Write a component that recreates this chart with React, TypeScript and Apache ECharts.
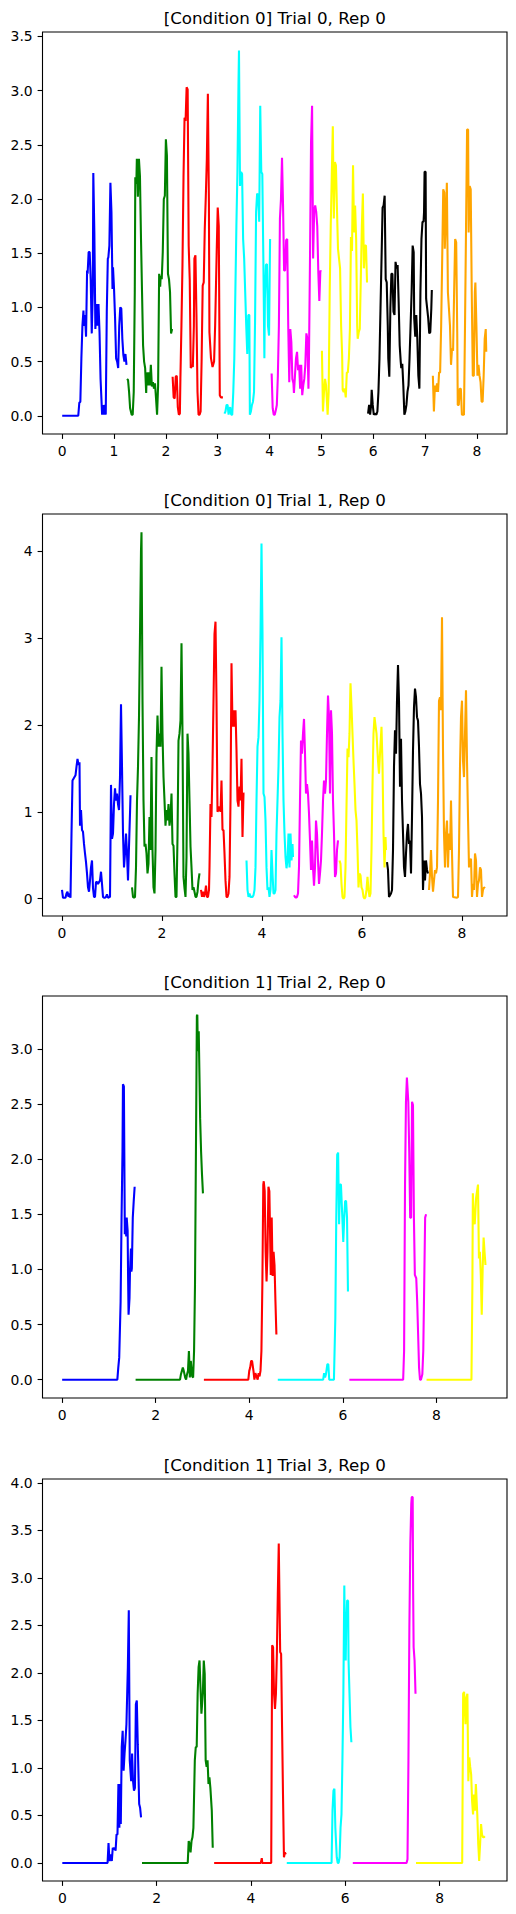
import React, { useEffect, useRef } from "react";
import * as echarts from "echarts";

// Colours used for the successive segments of a trial
const SEGMENT_COLORS: Record<string, string> = {
  blue: "#0000ff",
  green: "#008000",
  red: "#ff0000",
  cyan: "#00ffff",
  magenta: "#ff00ff",
  yellow: "#ffff00",
  black: "#000000",
  orange: "#ffa500",
};

const titles = [
  "[Condition 0] Trial 0, Rep 0",
  "[Condition 0] Trial 1, Rep 0",
  "[Condition 1] Trial 2, Rep 0",
  "[Condition 1] Trial 3, Rep 0",
];

// ---- Trial 0 ----
const t0Blue = [[0,0],[0.31,0],[0.33,0.12],[0.35,0.13],[0.37,0.53],[0.39,0.83],[0.41,0.97],[0.42,0.83],[0.44,0.93],[0.46,0.73],[0.48,1.34],[0.49,1.31],[0.51,1.51],[0.53,1.51],[0.55,1.26],[0.57,0.76],[0.59,1.14],[0.60,2.24],[0.62,1.69],[0.64,0.80],[0.66,1.03],[0.68,0.83],[0.70,1.03],[0.72,0.77],[0.74,0.34],[0.77,0.01],[0.79,0.10],[0.80,0.01],[0.82,0.10],[0.84,0.01],[0.86,0.96],[0.88,1.45],[0.89,1.46],[0.91,1.57],[0.93,2.15],[0.95,1.88],[0.97,1.17],[0.98,1.37],[1.00,1.17],[1.02,0.90],[1.04,0.53],[1.06,0.50],[1.08,0.44],[1.10,0.83],[1.12,1.00],[1.14,0.99],[1.16,0.71],[1.18,0.56],[1.20,0.50],[1.22,0.57],[1.24,0.47]];
const t0Green = [[1.25,0.34],[1.27,0.33],[1.29,0.22],[1.31,0.07],[1.34,0.01],[1.36,0.01],[1.38,0.22],[1.40,1.14],[1.41,2.20],[1.43,2.14],[1.44,2.37],[1.46,2.02],[1.48,2.37],[1.50,2.21],[1.52,1.63],[1.54,1.14],[1.56,0.65],[1.58,0.50],[1.60,0.44],[1.62,0.21],[1.63,0.40],[1.65,0.28],[1.67,0.40],[1.69,0.28],[1.71,0.47],[1.73,0.27],[1.75,0.31],[1.77,0.25],[1.79,0.30],[1.81,0.16],[1.83,0.01],[1.85,0.28],[1.87,1.31],[1.89,1.19],[1.90,1.29],[1.92,1.26],[1.94,1.51],[1.96,2.00],[1.98,2.03],[2.00,2.55],[2.02,2.40],[2.04,1.31],[2.06,1.26],[2.08,1.14],[2.10,0.76],[2.12,0.80]];
const t0Red = [[2.13,0.36],[2.15,0.17],[2.17,0.16],[2.19,0.36],[2.21,0.37],[2.23,0.08],[2.25,0.01],[2.27,0.02],[2.28,0.34],[2.30,0.83],[2.32,1.39],[2.34,2.20],[2.36,2.75],[2.38,2.72],[2.40,3.03],[2.42,3.01],[2.44,1.57],[2.46,1.26],[2.48,0.44],[2.50,0.47],[2.52,0.45],[2.54,0.83],[2.55,1.45],[2.57,1.48],[2.59,0.93],[2.61,0.22],[2.63,0.01],[2.65,0.01],[2.67,0.04],[2.69,0.53],[2.71,1.20],[2.73,1.23],[2.75,1.72],[2.77,2.02],[2.79,2.37],[2.81,2.97],[2.83,1.97],[2.84,0.77],[2.87,0.53],[2.90,0.45],[2.93,0.50],[2.95,0.83],[2.98,1.51],[3.00,1.92],[3.02,1.75],[3.04,0.19],[3.06,0.17],[3.10,0.17]];
const t0Cyan = [[3.13,0.02],[3.15,0.04],[3.17,0.10],[3.19,0.10],[3.21,0.01],[3.23,0.07],[3.24,0.08],[3.26,0.01],[3.28,0.01],[3.30,0.22],[3.32,0.53],[3.34,1.14],[3.36,1.75],[3.38,2.25],[3.40,3.04],[3.41,3.37],[3.43,2.12],[3.45,2.25],[3.47,2.23],[3.49,1.63],[3.51,1.45],[3.53,1.14],[3.55,0.83],[3.57,0.57],[3.59,0.93],[3.61,0.93],[3.62,0.01],[3.64,0.04],[3.66,0.10],[3.68,0.13],[3.70,0.22],[3.72,0.87],[3.74,1.88],[3.76,2.05],[3.78,2.03],[3.80,1.79],[3.82,2.86],[3.84,2.25],[3.86,2.23],[3.88,1.45],[3.90,0.53],[3.91,1.08],[3.93,1.39],[3.95,1.40],[3.97,0.83],[3.99,0.74],[4.01,1.63]];
const t0Magenta = [[4.04,0.39],[4.06,0.07],[4.08,0.01],[4.10,0.01],[4.12,0.05],[4.14,0.10],[4.16,0.37],[4.18,0.83],[4.20,1.82],[4.22,2.00],[4.24,2.38],[4.26,1.94],[4.28,1.34],[4.30,1.34],[4.32,1.62],[4.34,1.63],[4.36,0.83],[4.38,0.31],[4.40,0.80],[4.42,0.68],[4.44,0.34],[4.46,0.30],[4.47,0.21],[4.49,0.37],[4.51,0.53],[4.53,0.59],[4.55,0.42],[4.57,0.47],[4.59,0.25],[4.61,0.47],[4.63,0.19],[4.65,0.28],[4.67,0.34],[4.69,0.47],[4.71,0.76],[4.73,0.71],[4.75,0.25],[4.76,0.53],[4.78,1.45],[4.80,2.52],[4.82,2.86],[4.84,1.45],[4.86,1.88],[4.88,1.94],[4.90,1.88],[4.92,1.75],[4.94,1.33],[4.96,1.06],[4.98,1.34],[4.99,1.33]];
const t0Yellow = [[5.01,0.60],[5.03,0.04],[5.05,0.22],[5.07,0.34],[5.09,0.28],[5.11,0.10],[5.12,0.01],[5.14,0.22],[5.16,1.14],[5.18,1.75],[5.20,2.21],[5.22,2.67],[5.24,1.82],[5.26,2.34],[5.28,2.31],[5.30,1.91],[5.32,1.54],[5.34,1.45],[5.36,1.36],[5.38,0.83],[5.40,0.56],[5.41,0.24],[5.43,0.22],[5.45,0.25],[5.47,0.17],[5.49,0.40],[5.51,0.40],[5.53,0.53],[5.55,0.80],[5.57,1.65],[5.59,1.52],[5.61,2.31],[5.63,1.69],[5.65,1.94],[5.67,1.63],[5.69,0.83],[5.70,0.71],[5.72,0.77],[5.74,0.80],[5.76,1.26],[5.78,1.75],[5.80,2.05],[5.82,1.36],[5.84,1.57],[5.86,1.57],[5.88,1.23]];
const t0Black = [[5.90,0.02],[5.92,0.10],[5.94,0.01],[5.96,0.10],[5.97,0.24],[5.99,0.10],[6.01,0.01],[6.03,0.02],[6.06,0.01],[6.08,0.04],[6.10,0.22],[6.12,0.53],[6.14,0.99],[6.16,1.45],[6.18,1.92],[6.20,1.94],[6.22,2.03],[6.24,1.26],[6.26,1.23],[6.28,0.83],[6.29,0.53],[6.31,0.36],[6.33,0.99],[6.35,1.31],[6.37,1.31],[6.39,0.96],[6.41,0.93],[6.43,1.42],[6.45,1.36],[6.47,1.39],[6.49,1.05],[6.51,0.65],[6.53,0.50],[6.54,0.44],[6.56,0.48],[6.58,0.28],[6.60,0.01],[6.62,0.04],[6.64,0.10],[6.66,0.22],[6.68,0.28],[6.70,0.53],[6.72,0.83],[6.74,1.14],[6.76,1.57],[6.78,1.51],[6.79,0.90],[6.81,0.73],[6.83,0.93],[6.85,0.71],[6.87,0.37],[6.89,0.25],[6.91,1.14],[6.93,1.63],[6.95,1.79],[6.97,1.79],[6.98,1.88],[6.99,2.25],[7.01,2.25],[7.02,1.08],[7.04,0.99],[7.06,0.90],[7.08,0.76],[7.10,0.77],[7.12,0.99],[7.13,1.16]];
const t0Orange = [[7.15,0.37],[7.17,0.04],[7.19,0.28],[7.21,0.22],[7.23,0.30],[7.25,0.22],[7.27,0.40],[7.29,0.40],[7.31,0.83],[7.33,1.45],[7.35,2.09],[7.37,2.06],[7.38,1.54],[7.40,1.82],[7.42,2.15],[7.44,1.14],[7.46,0.99],[7.48,0.83],[7.50,0.47],[7.52,0.62],[7.54,0.60],[7.56,1.14],[7.58,1.63],[7.60,1.60],[7.62,0.77],[7.63,0.10],[7.65,0.10],[7.67,0.25],[7.69,0.25],[7.71,0.01],[7.73,0.01],[7.75,0.01],[7.77,0.83],[7.79,1.75],[7.81,2.64],[7.83,2.64],[7.84,1.69],[7.86,2.12],[7.88,2.09],[7.90,1.14],[7.92,0.37],[7.94,0.37],[7.96,1.14],[7.97,1.23],[7.99,0.83],[8.01,0.37],[8.03,0.47],[8.05,0.37],[8.07,0.31],[8.09,0.13],[8.11,0.13],[8.13,0.37],[8.15,0.71],[8.17,0.80],[8.18,0.59]];

// ---- Trial 1 ----
const t1Blue = [[0,0.10],[0.02,0.01],[0.04,0.01],[0.07,0.01],[0.09,0.06],[0.11,0.08],[0.13,0.02],[0.15,0.06],[0.17,0.01],[0.19,0.75],[0.21,1.36],[0.23,1.38],[0.25,1.40],[0.27,1.42],[0.29,1.52],[0.31,1.61],[0.33,1.54],[0.35,1.57],[0.36,0.84],[0.38,1.02],[0.40,0.79],[0.42,0.77],[0.44,0.63],[0.46,0.52],[0.48,0.42],[0.50,0.29],[0.52,0.13],[0.54,0.08],[0.56,0.21],[0.58,0.36],[0.60,0.44],[0.62,0.12],[0.64,0.02],[0.66,0.02],[0.68,0.19],[0.70,0.19],[0.72,0.17],[0.74,0.19],[0.76,0.21],[0.78,0.31],[0.80,0.17],[0.82,0.02],[0.84,0.01],[0.86,0.01],[0.88,0.02],[0.90,0.05],[0.92,0.01],[0.96,0.02],[0.98,1.31],[1.00,0.69],[1.02,0.75],[1.04,1.09],[1.06,1.27],[1.08,1.13],[1.10,1.21],[1.12,1.09],[1.14,1.02],[1.16,1.40],[1.18,2.24],[1.20,1.52],[1.22,0.75],[1.24,0.36],[1.26,0.52],[1.28,0.75],[1.30,0.52],[1.32,0.21],[1.34,0.60],[1.36,0.98],[1.37,1.19]];
const t1Green = [[1.40,0.13],[1.42,0.02],[1.44,0.01],[1.46,0.02],[1.48,0.36],[1.50,1.13],[1.52,1.52],[1.54,2.09],[1.56,3.05],[1.58,4.01],[1.59,4.22],[1.61,2.28],[1.63,1.13],[1.65,0.60],[1.67,0.63],[1.69,0.52],[1.71,0.29],[1.73,0.40],[1.75,0.94],[1.77,0.56],[1.79,1.63],[1.81,0.56],[1.83,0.13],[1.85,0.06],[1.87,0.56],[1.89,1.67],[1.91,2.11],[1.93,1.75],[1.95,1.90],[1.97,1.75],[1.99,2.67],[2.01,1.90],[2.03,1.40],[2.05,1.13],[2.07,0.84],[2.09,1.02],[2.11,0.90],[2.13,1.09],[2.15,0.84],[2.17,0.94],[2.19,1.21],[2.21,0.63],[2.23,0.61],[2.25,0.29],[2.27,0.02],[2.29,0.02],[2.31,0.71],[2.33,1.82],[2.35,1.90],[2.37,2.05],[2.39,2.94],[2.41,1.90],[2.43,0.25],[2.45,0.12],[2.47,0.02],[2.49,0.48],[2.51,1.90],[2.53,1.67],[2.55,1.13],[2.57,0.60],[2.59,0.36],[2.61,0.10],[2.63,0.13],[2.65,0.08],[2.67,0.02],[2.69,0.02],[2.71,0.08],[2.73,0.21],[2.75,0.29]];
const t1Red = [[2.78,0.10],[2.80,0.02],[2.82,0.08],[2.84,0.02],[2.86,0.06],[2.88,0.15],[2.90,0.02],[2.92,0.02],[2.94,0.10],[2.95,0.36],[2.97,1.09],[2.99,0.94],[3.01,1.52],[3.03,2.28],[3.05,3.05],[3.07,3.19],[3.09,2.28],[3.11,1.00],[3.13,1.02],[3.15,1.06],[3.17,1.00],[3.19,1.36],[3.21,0.79],[3.23,0.79],[3.25,0.52],[3.27,0.21],[3.29,0.02],[3.31,0.02],[3.33,0.06],[3.35,0.25],[3.37,1.13],[3.39,2.71],[3.41,1.98],[3.43,2.17],[3.45,1.98],[3.47,2.17],[3.49,1.71],[3.51,1.13],[3.53,1.06],[3.55,1.29],[3.57,1.13],[3.59,1.61],[3.61,0.71],[3.63,1.21],[3.65,1.21]];
const t1Cyan = [[3.69,0.44],[3.71,0.10],[3.73,0.02],[3.75,0.06],[3.77,0.02],[3.81,0.02],[3.83,0.04],[3.85,0.10],[3.87,0.36],[3.89,1.13],[3.91,1.75],[3.93,1.86],[3.95,2.28],[3.97,3.05],[3.99,4.09],[4.01,3.05],[4.03,1.21],[4.05,1.17],[4.07,0.90],[4.09,0.36],[4.11,0.10],[4.13,0.13],[4.15,0.02],[4.17,0.10],[4.19,0.56],[4.21,0.29],[4.23,0.06],[4.25,0.06],[4.27,0.10],[4.29,0.75],[4.31,1.13],[4.33,1.52],[4.35,2.09],[4.37,2.28],[4.39,3.01],[4.41,1.90],[4.43,1.13],[4.45,0.75],[4.47,0.48],[4.49,0.35],[4.51,0.44],[4.53,0.75],[4.55,0.36],[4.57,0.75],[4.59,0.44],[4.61,0.63],[4.62,0.48]];
const t1Magenta = [[4.64,0.04],[4.66,0.02],[4.68,0.01],[4.70,0.02],[4.72,0.06],[4.74,0.36],[4.76,1.13],[4.78,1.82],[4.80,1.67],[4.82,1.90],[4.84,2.07],[4.86,1.67],[4.88,1.21],[4.90,1.32],[4.92,1.21],[4.94,0.98],[4.96,0.67],[4.98,0.33],[5.00,0.67],[5.02,0.36],[5.04,0.15],[5.06,0.36],[5.08,0.90],[5.10,0.75],[5.12,0.44],[5.14,0.17],[5.16,0.29],[5.18,0.44],[5.20,0.75],[5.22,1.13],[5.24,1.36],[5.26,1.21],[5.28,1.36],[5.30,1.90],[5.32,2.34],[5.34,2.09],[5.36,1.21],[5.38,2.17],[5.40,1.90],[5.42,1.13],[5.44,0.75],[5.46,0.25],[5.48,0.29],[5.50,0.56],[5.52,0.67]];
const t1Yellow = [[5.55,0.44],[5.57,0.40],[5.59,0.17],[5.61,0.02],[5.63,0],[5.65,0.02],[5.67,0.36],[5.69,1.06],[5.71,1.73],[5.73,1.63],[5.75,1.90],[5.77,2.48],[5.79,2.21],[5.81,1.90],[5.83,1.59],[5.85,1.32],[5.87,1.02],[5.89,0.90],[5.91,0.56],[5.93,0.13],[5.95,0.29],[5.97,0.27],[5.99,0.13],[6.01,0.10],[6.03,0.02],[6.05,0],[6.07,0.02],[6.09,0.10],[6.11,0.25],[6.13,0.10],[6.15,0.02],[6.17,0.06],[6.19,0.56],[6.21,1.32],[6.23,1.90],[6.25,2.09],[6.29,1.90],[6.32,1.59],[6.34,1.44],[6.36,1.67],[6.39,1.98],[6.41,1.55],[6.43,0.75],[6.45,0.36],[6.47,0.71],[6.48,0.56]];
const t1Black = [[6.50,0.42],[6.52,0.33],[6.54,0.02],[6.56,0.04],[6.58,0.06],[6.60,0.10],[6.62,0.56],[6.64,1.52],[6.66,1.94],[6.68,1.67],[6.70,2.28],[6.72,2.69],[6.74,2.28],[6.76,1.29],[6.78,1.84],[6.80,1.13],[6.82,0.75],[6.84,0.36],[6.86,0.25],[6.88,0.52],[6.90,0.75],[6.92,0.86],[6.94,0.63],[6.96,0.67],[6.98,0.29],[7.00,0.94],[7.02,1.71],[7.04,2.21],[7.06,2.42],[7.08,2.32],[7.10,2.09],[7.12,2.05],[7.14,1.75],[7.16,1.32],[7.18,1.21],[7.20,0.94],[7.22,0.10],[7.24,0.44],[7.26,0.21],[7.28,0.44],[7.30,0.33],[7.32,0.29]];
const t1Orange = [[7.34,0.10],[7.36,0.29],[7.38,0.56],[7.40,0.25],[7.42,0.08],[7.44,0.21],[7.46,0.33],[7.48,0.29],[7.50,0.36],[7.52,1.13],[7.54,2.28],[7.56,2.32],[7.58,2.17],[7.60,3.24],[7.62,1.71],[7.64,0.75],[7.66,0.36],[7.68,0.75],[7.70,0.90],[7.72,0.36],[7.74,0.75],[7.76,0.56],[7.78,1.13],[7.80,0.52],[7.82,0.02],[7.90,0.01],[7.92,0.02],[7.94,0.56],[7.96,1.52],[7.98,2.09],[8.00,2.28],[8.02,1.59],[8.04,1.40],[8.06,1.90],[8.08,2.40],[8.10,1.59],[8.12,0.94],[8.14,0.36],[8.16,0.44],[8.18,0.46],[8.20,0.02],[8.22,0.17],[8.24,0.10],[8.26,0.52],[8.28,0.44],[8.30,0.02],[8.32,0.17],[8.34,0.21],[8.36,0.36],[8.38,0.33],[8.40,0.02],[8.42,0.10],[8.44,0.13],[8.46,0.12]];

// ---- Trial 2 ----
const t2Blue = [[0,0],[1.18,0],[1.20,0.11],[1.22,0.20],[1.25,0.71],[1.27,1.47],[1.29,2.07],[1.30,2.68],[1.32,2.66],[1.34,1.32],[1.35,1.47],[1.37,1.30],[1.38,1.47],[1.40,1.35],[1.41,0.92],[1.42,0.59],[1.44,0.74],[1.45,0.98],[1.47,1.19],[1.48,0.98],[1.49,1.01],[1.51,1.47],[1.53,1.62],[1.55,1.75]];
const t2Green = [[1.57,0],[2.52,0],[2.54,0.05],[2.56,0.08],[2.58,0.11],[2.60,0.08],[2.63,0.02],[2.65,0],[2.67,0.05],[2.69,0.08],[2.71,0.26],[2.73,0.02],[2.75,0.17],[2.78,0.03],[2.80,0.02],[2.82,0.26],[2.84,0.86],[2.86,2.07],[2.88,3.30],[2.89,3.31],[2.90,2.98],[2.92,3.16],[2.93,3.16],[2.95,2.37],[2.97,2.07],[2.99,1.86],[3.01,1.69]];
const t2Red = [[3.03,0],[3.98,0],[4.00,0.08],[4.02,0.11],[4.04,0.17],[4.06,0.17],[4.09,0.08],[4.11,0],[4.13,0.06],[4.18,0],[4.20,0.06],[4.22,0.03],[4.24,0.08],[4.26,0.26],[4.28,0.86],[4.30,1.77],[4.31,1.80],[4.33,1.71],[4.35,1.16],[4.37,0.89],[4.39,1.16],[4.41,1.75],[4.43,1.71],[4.46,0.95],[4.48,1.47],[4.50,0.94],[4.52,1.16],[4.54,1.04],[4.56,0.71],[4.58,0.41]];
const t2Cyan = [[4.61,0],[5.58,0],[5.60,0.06],[5.62,0.02],[5.64,0.05],[5.67,0.14],[5.69,0.14],[5.71,0],[5.81,0],[5.84,0.56],[5.86,1.47],[5.88,2.04],[5.90,2.06],[5.92,1.41],[5.94,1.77],[5.96,1.77],[5.99,1.47],[6.01,1.25],[6.03,1.47],[6.05,1.62],[6.07,1.62],[6.09,1.47],[6.11,0.80]];
const t2Magenta = [[6.14,0],[7.29,0],[7.31,0.26],[7.33,1.77],[7.35,2.52],[7.37,2.74],[7.40,2.52],[7.42,2.07],[7.44,1.47],[7.46,1.47],[7.48,2.52],[7.50,2.49],[7.52,1.47],[7.54,0.95],[7.57,0.92],[7.59,0.71],[7.61,0.41],[7.63,0.11],[7.65,0],[7.67,0],[7.70,0.05],[7.72,0.26],[7.74,0.86],[7.76,1.47],[7.78,1.50]];
const t2Yellow = [[7.79,0],[8.75,0],[8.77,0.86],[8.78,1.69],[8.80,1.47],[8.82,1.41],[8.85,1.65],[8.87,1.71],[8.89,1.77],[8.91,1.10],[8.93,1.16],[8.95,0.95],[8.97,0.59],[8.99,1.01],[9.01,1.29],[9.03,1.16],[9.05,1.04]];

// ---- Trial 3 ----
const t3Blue = [[0,0],[0.96,0],[0.98,0.21],[1.00,0.02],[1.02,0.09],[1.05,0.02],[1.07,0.16],[1.09,0.14],[1.11,0.16],[1.13,0.13],[1.15,0.30],[1.17,0.30],[1.19,0.83],[1.21,0.37],[1.22,0.83],[1.24,0.41],[1.26,1.22],[1.28,1.39],[1.30,0.97],[1.32,1.15],[1.34,1.29],[1.36,1.46],[1.39,2.06],[1.41,2.66],[1.42,2.66],[1.43,1.08],[1.46,0.86],[1.48,1.15],[1.50,0.86],[1.52,0.76],[1.54,0.79],[1.56,1.67],[1.58,1.71],[1.60,1.25],[1.63,0.62],[1.65,0.58],[1.67,0.48]];
const t3Green = [[1.69,0],[2.66,0],[2.68,0.23],[2.70,0.20],[2.72,0.11],[2.74,0.23],[2.76,0.27],[2.78,0.37],[2.81,1.08],[2.83,1.22],[2.85,1.22],[2.87,1.78],[2.89,2.06],[2.91,2.13],[2.93,1.85],[2.95,1.57],[2.98,1.78],[3.00,2.13],[3.02,1.99],[3.04,1.08],[3.06,1.01],[3.08,1.08],[3.10,0.83],[3.12,0.90],[3.14,0.79],[3.17,0.55],[3.19,0.16]];
const t3Red = [[3.22,0],[4.21,0],[4.23,0.05],[4.24,0],[4.43,0],[4.45,2.29],[4.47,2.27],[4.49,1.78],[4.51,1.62],[4.53,1.78],[4.55,2.20],[4.57,2.83],[4.59,3.36],[4.60,3.36],[4.62,2.22],[4.64,2.20],[4.66,1.43],[4.68,0.72],[4.70,0.06],[4.72,0.11],[4.74,0.09]];
const t3Cyan = [[4.76,0],[5.71,0],[5.73,0.55],[5.75,0.76],[5.77,0.78],[5.79,0.37],[5.82,0.06],[5.84,0],[5.86,0],[5.88,0.06],[5.90,0.37],[5.92,0.51],[5.94,1.08],[5.96,1.78],[5.98,2.92],[5.99,2.48],[6.01,2.13],[6.02,2.48],[6.04,2.76],[6.06,2.76],[6.07,2.13],[6.09,1.78],[6.11,1.43],[6.13,1.27]];
const t3Magenta = [[6.16,0],[7.30,0],[7.32,0.04],[7.34,1.08],[7.36,2.48],[7.38,3.36],[7.40,3.78],[7.41,3.85],[7.43,3.85],[7.44,2.83],[7.45,2.27],[7.47,2.13],[7.49,1.78]];
const t3Yellow = [[7.50,0],[8.48,0],[8.50,1.78],[8.52,1.80],[8.55,1.46],[8.57,1.74],[8.59,1.78],[8.61,0.86],[8.63,1.11],[8.65,1.01],[8.67,0.93],[8.69,0.65],[8.71,0.51],[8.73,0.72],[8.75,0.55],[8.77,0.83],[8.80,0.51],[8.82,0.20],[8.84,0.02],[8.86,0.20],[8.88,0.41],[8.90,0.30],[8.92,0.27],[8.94,0.27],[8.96,0.28]];

// Tick values per panel
const xTicks0 = [0, 1, 2, 3, 4, 5, 6, 7, 8];
const xTicksEven = [0, 2, 4, 6, 8];
const yTicks0 = [0, 0.5, 1, 1.5, 2, 2.5, 3, 3.5];
const yTicks1 = [0, 1, 2, 3, 4];
const yTicks2 = [0, 0.5, 1, 1.5, 2, 2.5, 3];
const yTicks3 = [0, 0.5, 1, 1.5, 2, 2.5, 3, 3.5, 4];

const trials: [string, number[][]][][] = [
  [["blue", t0Blue], ["green", t0Green], ["red", t0Red], ["cyan", t0Cyan], ["magenta", t0Magenta], ["yellow", t0Yellow], ["black", t0Black], ["orange", t0Orange]],
  [["blue", t1Blue], ["green", t1Green], ["red", t1Red], ["cyan", t1Cyan], ["magenta", t1Magenta], ["yellow", t1Yellow], ["black", t1Black], ["orange", t1Orange]],
  [["blue", t2Blue], ["green", t2Green], ["red", t2Red], ["cyan", t2Cyan], ["magenta", t2Magenta], ["yellow", t2Yellow]],
  [["blue", t3Blue], ["green", t3Green], ["red", t3Red], ["cyan", t3Cyan], ["magenta", t3Magenta], ["yellow", t3Yellow]],
];

// Layout of the four stacked axes
const AX_LEFT = 42.5;
const AX_RIGHT = 507;
const AX_HEIGHT = 402;
const panels = [
  { top: 32, x: [-0.38, 8.58], y: [-0.168, 3.54], xTicks: xTicks0, yTicks: yTicks0, yDec: 1 },
  { top: 514, x: [-0.39, 8.9], y: [-0.2, 4.43], xTicks: xTicksEven, yTicks: yTicks1, yDec: 0 },
  { top: 996, x: [-0.42, 9.51], y: [-0.166, 3.48], xTicks: xTicksEven, yTicks: yTicks2, yDec: 1 },
  { top: 1479, x: [-0.42, 9.43], y: [-0.19, 4.04], xTicks: xTicksEven, yTicks: yTicks3, yDec: 1 },
];

const FONT = "DejaVu Sans";
const TICK_STYLE = { length: 4.9, lineStyle: { color: "#000", width: 1.1 } };

function buildOption() {
  const grid: any[] = [];
  const xAxis: any[] = [];
  const yAxis: any[] = [];
  const series: any[] = [];
  const graphic: any[] = [];

  panels.forEach((p, i) => {
    grid.push({
      left: AX_LEFT,
      width: AX_RIGHT - AX_LEFT,
      top: p.top,
      height: AX_HEIGHT,
      show: true,
      borderColor: "#000",
      borderWidth: 1.1,
      backgroundColor: "transparent",
    });
    xAxis.push({
      type: "value",
      gridIndex: i,
      position: "bottom",
      min: p.x[0],
      max: p.x[1],
      splitLine: { show: false },
      axisLine: { show: false, onZero: false },
      axisTick: { show: true, inside: false, customValues: p.xTicks, ...TICK_STYLE },
      axisLabel: {
        customValues: p.xTicks,
        formatter: (v: number) => String(Math.round(v)),
        margin: 9.8,
        color: "#000",
        fontFamily: FONT,
        fontSize: 13.9,
      },
    });
    yAxis.push({
      type: "value",
      gridIndex: i,
      position: "left",
      min: p.y[0],
      max: p.y[1],
      splitLine: { show: false },
      axisLine: { show: false, onZero: false },
      axisTick: { show: true, inside: false, customValues: p.yTicks, ...TICK_STYLE },
      axisLabel: {
        customValues: p.yTicks,
        formatter: (v: number) => v.toFixed(p.yDec),
        margin: 9.8,
        color: "#000",
        fontFamily: FONT,
        fontSize: 13.9,
      },
    });
    trials[i].forEach(([name, data]) => {
      series.push({
        type: "line",
        name,
        xAxisIndex: i,
        yAxisIndex: i,
        data,
        showSymbol: false,
        symbol: "none",
        clip: true,
        lineStyle: { color: SEGMENT_COLORS[name], width: 2.08 },
        itemStyle: { color: SEGMENT_COLORS[name] },
        z: 2,
      });
    });
    graphic.push({
      type: "text",
      style: {
        text: titles[i],
        x: (AX_LEFT + AX_RIGHT) / 2,
        y: p.top - 14,
        textAlign: "center",
        textVerticalAlign: "middle",
        align: "center",
        verticalAlign: "middle",
        fill: "#000",
        font: `16.7px "${FONT}"`,
      },
    });
  });

  return {
    animation: false,
    backgroundColor: "#fff",
    grid,
    xAxis,
    yAxis,
    series,
    graphic,
  };
}

export default function App() {
  const ref = useRef<HTMLDivElement>(null);
  useEffect(() => {
    if (!ref.current) return;
    const chart = echarts.init(ref.current, null, { renderer: "svg" });
    chart.setOption(buildOption());
    return () => chart.dispose();
  }, []);
  return (
    <div
      ref={ref}
      style={{ position: "absolute", left: 0, top: 0, width: 516, height: 1914, background: "#fff" }}
    />
  );
}
